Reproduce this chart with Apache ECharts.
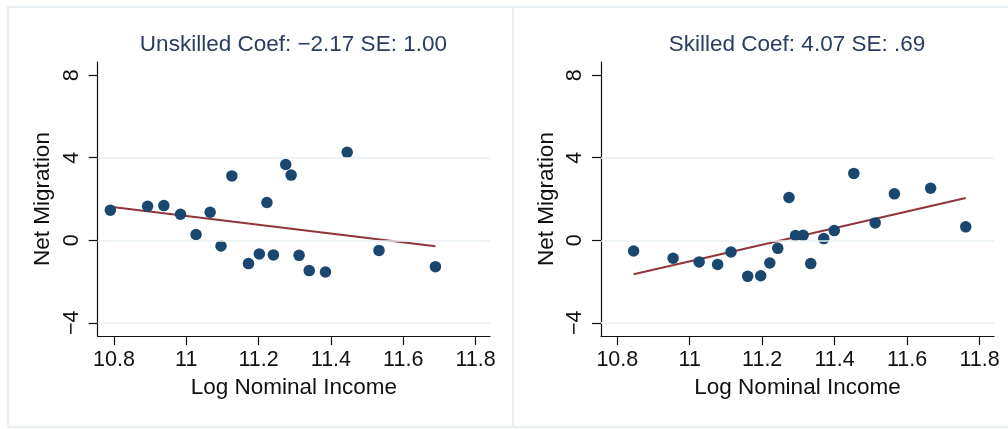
<!DOCTYPE html>
<html>
<head>
<meta charset="utf-8">
<script src="https://cdn.jsdelivr.net/npm/echarts@6/dist/echarts.min.js"></script>
<style>
  html, body { margin: 0; padding: 0; background: #ffffff; }
  #chart { width: 1008px; height: 429px; }
</style>
</head>
<body>
<div id="chart"></div>
<script>
// Panel titles
const panelTitles = ['Unskilled Coef: \u22122.17 SE: 1.00', 'Skilled Coef: 4.07 SE: .69'];

// Axis ticks
const xTicks = [10.8, 11, 11.2, 11.4, 11.6, 11.8];
const yTicks = [-4, 0, 4, 8];
const gridLineValues = [-4, 0, 4];

// Unskilled: log nominal income vs net migration
const unskilledIncome = [10.79, 10.893, 10.938, 10.984, 11.027, 11.066, 11.096, 11.126, 11.172, 11.202,
                         11.223, 11.241, 11.275, 11.290, 11.312, 11.445, 11.340, 11.385, 11.533, 11.689];
const unskilledMigration = [1.46, 1.65, 1.68, 1.26, 0.28, 1.36, -0.28, 3.12, -1.13, -0.66,
                            1.83, -0.71, 3.67, 3.16, -0.73, 4.26, -1.47, -1.54, -0.49, -1.28];
const unskilledFitX = [10.79, 11.689];
const unskilledFitY = [1.63, -0.29];

// Skilled: log nominal income vs net migration
const skilledIncome = [10.845, 10.954, 11.026, 11.077, 11.114, 11.160, 11.196, 11.221, 11.243, 11.274,
                       11.292, 11.313, 11.334, 11.370, 11.399, 11.453, 11.512, 11.565, 11.665, 11.762];
const skilledMigration = [-0.52, -0.87, -1.05, -1.17, -0.57, -1.75, -1.72, -1.10, -0.39, 2.07,
                          0.23, 0.24, -1.13, 0.08, 0.47, 3.24, 0.84, 2.25, 2.52, 0.65];
const skilledFitX = [10.845, 11.762];
const skilledFitY = [-1.65, 2.05];

const FONT = '"Liberation Sans", Arial, sans-serif';
const INK = '#111111';
const DOT = '#1a476f';
const FIT = '#90353b';
const GRIDLINE = '#e8f0f2';
const FRAME = '#e6eef1';
const TITLE = '#2b3c62';

const zip = (a, b) => a.map((v, i) => [v, b[i]]);
const fmtNum = v => (v < 0 ? '\u2212' + Math.abs(v) : String(v));

const grids = [
  { left: 97.7, top: 62, width: 392.3, height: 274 },
  { left: 601, top: 62, width: 393, height: 274 }
];

function xAxis(i) {
  return {
    gridIndex: i, type: 'value', min: 10.755, max: 11.84,
    axisLine: { show: true, onZero: false, lineStyle: { color: INK, width: 1.2 } },
    axisTick: { show: true, length: 9, customValues: xTicks, lineStyle: { color: INK, width: 1.2 } },
    axisLabel: { customValues: xTicks, formatter: v => fmtNum(v), color: INK, fontFamily: FONT, fontSize: 21.5, margin: 13 },
    splitLine: { show: false },
    name: 'Log Nominal Income', nameLocation: 'middle', nameGap: 36,
    nameTextStyle: { color: INK, fontFamily: FONT, fontSize: 22.5 }
  };
}

function yAxis(i) {
  return {
    gridIndex: i, type: 'value', min: -4.64, max: 8.64,
    axisLine: { show: true, onZero: false, lineStyle: { color: INK, width: 1.2 } },
    axisTick: { show: true, length: 9, customValues: yTicks, lineStyle: { color: INK, width: 1.2 } },
    axisLabel: { customValues: yTicks, formatter: v => fmtNum(v), rotate: 90, color: INK, fontFamily: FONT, fontSize: 21.5, margin: 15 },
    splitLine: { show: false },
    name: 'Net Migration', nameLocation: 'middle', nameGap: 43,
    nameTextStyle: { color: INK, fontFamily: FONT, fontSize: 22.5 }
  };
}

function panelSeries(i, xs, ys, fx, fy) {
  return [
    {
      // light horizontal reference lines
      type: 'scatter', xAxisIndex: i, yAxisIndex: i, data: [], z: 1, silent: true,
      markLine: {
        silent: true, symbol: 'none', label: { show: false },
        lineStyle: { color: GRIDLINE, width: 1.6, type: 'solid' },
        data: gridLineValues.map(v => ({ yAxis: v }))
      }
    },
    {
      type: 'line', xAxisIndex: i, yAxisIndex: i, data: zip(fx, fy), z: 2,
      symbol: 'none', lineStyle: { color: FIT, width: 2 }, silent: true
    },
    {
      type: 'scatter', xAxisIndex: i, yAxisIndex: i, data: zip(xs, ys), z: 3,
      symbol: 'circle', symbolSize: 11.5, itemStyle: { color: DOT, opacity: 1 }, silent: true
    }
  ];
}

const chart = echarts.init(document.getElementById('chart'), null, { renderer: 'canvas' });
chart.setOption({
  animation: false,
  backgroundColor: '#ffffff',
  title: [
    { text: panelTitles[0], left: 288.4, top: 28, textAlign: 'center',
      textStyle: { color: TITLE, fontFamily: FONT, fontSize: 22.5, fontWeight: 'normal' } },
    { text: panelTitles[1], left: 792, top: 28, textAlign: 'center',
      textStyle: { color: TITLE, fontFamily: FONT, fontSize: 22.5, fontWeight: 'normal' } }
  ],
  graphic: [
    { type: 'rect', shape: { x: 8, y: 7, width: 505, height: 420 }, style: { fill: 'none', stroke: FRAME, lineWidth: 2 }, silent: true, z: -10 },
    { type: 'rect', shape: { x: 513, y: 7, width: 500, height: 420 }, style: { fill: 'none', stroke: FRAME, lineWidth: 2 }, silent: true, z: -10 }
  ],
  grid: grids,
  xAxis: [xAxis(0), xAxis(1)],
  yAxis: [yAxis(0), yAxis(1)],
  series: [
    ...panelSeries(0, unskilledIncome, unskilledMigration, unskilledFitX, unskilledFitY),
    ...panelSeries(1, skilledIncome, skilledMigration, skilledFitX, skilledFitY)
  ]
});
</script>
</body>
</html>
